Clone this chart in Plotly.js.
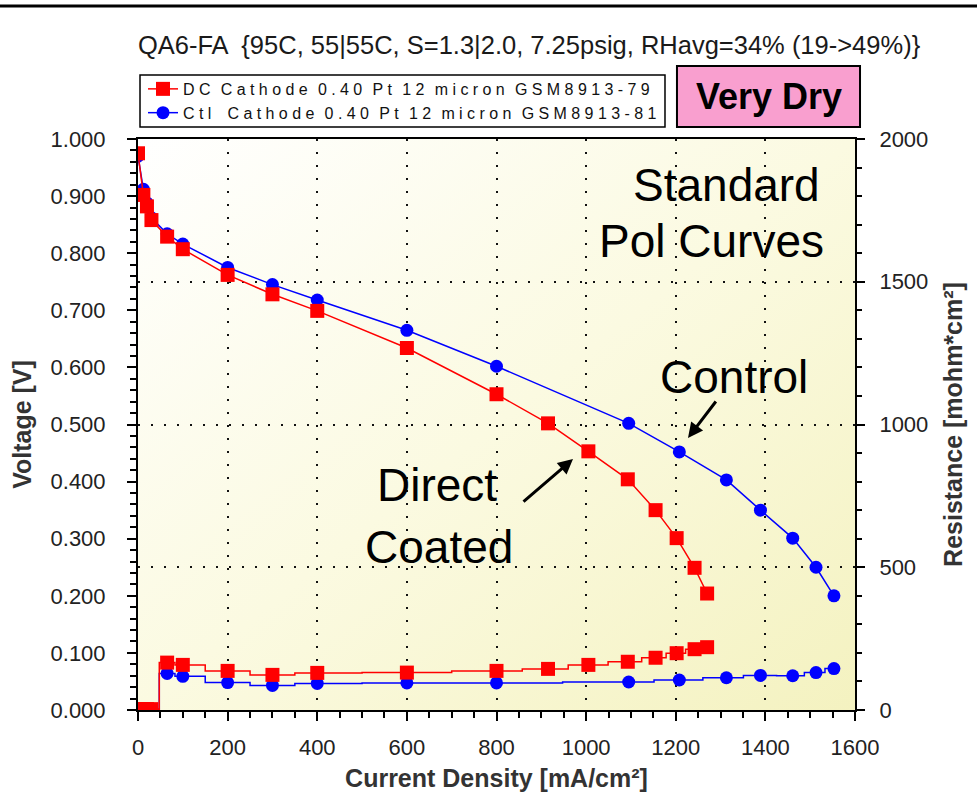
<!DOCTYPE html>
<html>
<head>
<meta charset="utf-8">
<script src="https://cdn.plot.ly/plotly-3.0.1.min.js"></script>
<style>
  html, body { margin: 0; padding: 0; background: #fff; }
  #chart { width: 977px; height: 804px; }
  .legendtext { letter-spacing: 4.4px; word-spacing: -3px; }
</style>
</head>
<body>
<div id="chart"></div>
<script>
// ---- Data ----
const dcCurrent    = [0, 12, 20, 30, 65, 100, 200, 300, 400, 600, 800, 915, 1005, 1093, 1155, 1202, 1242, 1270];
const dcVoltage    = [0.975, 0.902, 0.882, 0.858, 0.829, 0.807, 0.762, 0.728, 0.699, 0.634, 0.553, 0.502, 0.453, 0.404, 0.350, 0.301, 0.249, 0.204];
const dcResistance = [3, 3, 3, 3, 166, 158, 137, 123, 130, 131, 137, 144, 158, 169, 183, 199, 213, 220];

const ctlCurrent    = [0, 12, 20, 30, 65, 100, 200, 300, 400, 600, 800, 1095, 1208, 1313, 1389, 1461, 1513, 1553];
const ctlVoltage    = [0.970, 0.912, 0.888, 0.862, 0.834, 0.816, 0.775, 0.745, 0.718, 0.665, 0.602, 0.502, 0.452, 0.403, 0.350, 0.301, 0.250, 0.200];
const ctlResistance = [3, 3, 3, 3, 128, 118, 96, 86, 93, 95, 95, 98, 105, 113, 121, 120, 131, 145];

const dcName  = "DC Cathode 0.40 Pt 12 micron GSM8913-79";
const ctlName = "Ctl\u00a0 Cathode 0.40 Pt 12 micron GSM8913-81";
const chartTitle = "QA6-FA  {95C, 55|55C, S=1.3|2.0, 7.25psig, RHavg=34% (19->49%)}";
const xTitle  = "Current Density [mA/cm²]";
const yTitle  = "Voltage [V]";
const y2Title = "Resistance [mohm*cm²]";

// ---- Styling ----
const FONT = "Liberation Sans, Arial, sans-serif";
const RED = "#ff0000", BLUE = "#0000ff";

const traces = [
  { x: ctlCurrent, y: ctlVoltage, name: ctlName, type: "scatter", mode: "lines+markers",
    line: { color: BLUE, width: 1.5 }, marker: { symbol: "circle", size: 13, color: BLUE },
    legendrank: 2, xaxis: "x", yaxis: "y" },
  { x: ctlCurrent, y: ctlResistance, name: ctlName, type: "scatter", mode: "lines+markers",
    line: { color: BLUE, width: 1.5, shape: "hvh" }, marker: { symbol: "circle", size: 13, color: BLUE },
    showlegend: false, xaxis: "x", yaxis: "y2" },
  { x: dcCurrent, y: dcVoltage, name: dcName, type: "scatter", mode: "lines+markers",
    line: { color: RED, width: 1.5 }, marker: { symbol: "square", size: 14, color: RED },
    legendrank: 1, xaxis: "x", yaxis: "y" },
  { x: dcCurrent, y: dcResistance, name: dcName, type: "scatter", mode: "lines+markers",
    line: { color: RED, width: 1.5, shape: "hvh" }, marker: { symbol: "square", size: 14, color: RED },
    showlegend: false, xaxis: "x", yaxis: "y2" }
];

const gradSvg = '<svg xmlns="http://www.w3.org/2000/svg" width="100" height="100" preserveAspectRatio="none">' +
  '<defs><linearGradient id="g" x1="0" y1="0" x2="1" y2="1">' +
  '<stop offset="0" stop-color="#ffffff"/><stop offset="0.5" stop-color="#fbfae1"/><stop offset="1" stop-color="#f4f2c0"/>' +
  '</linearGradient></defs><rect width="100" height="100" fill="url(#g)"/></svg>';
const gradUri = "data:image/svg+xml;charset=utf-8," + encodeURIComponent(gradSvg);

const tickFont = { family: FONT, size: 22, color: "#222" };
const dotGrid = { showgrid: true, gridcolor: "#111", gridwidth: 2, griddash: "2px,11px" };
const axTitleFont = { family: FONT, size: 25, color: "#333", weight: "bold" };

function label(text, x, y, size, bold) {
  return { text: bold ? "<b>" + text + "</b>" : text, xref: "paper", yref: "paper", x: x, y: y,
           xanchor: "center", yanchor: "middle", showarrow: false,
           font: { family: FONT, size: size, color: "#000" } };
}

const layout = {
  width: 977, height: 804,
  margin: { l: 138, r: 122, t: 139, b: 94 },
  paper_bgcolor: "#ffffff",
  plot_bgcolor: "rgba(0,0,0,0)",
  font: { family: FONT, color: "#222" },
  title: { text: chartTitle, font: { family: FONT, size: 25.5, color: "#1a1a1a" },
           xref: "container", yref: "container", x: 0.5415, xanchor: "center", y: 0.944, yanchor: "middle" },
  showlegend: true,
  legend: { x: 0.007, xanchor: "left", y: 1.1174, yanchor: "top", bgcolor: "rgba(0,0,0,0)", borderwidth: 0,
            font: { family: FONT, size: 16, color: "#111" }, traceorder: "normal" },
  xaxis: Object.assign({
    range: [0, 1600], dtick: 200, tick0: 0, showline: true, linecolor: "#000", linewidth: 2, mirror: true,
    ticks: "outside", ticklen: 9, tickwidth: 2, tickcolor: "#000", tickfont: tickFont, ticklabelstandoff: 8,
    minor: { dtick: 50, ticks: "outside", ticklen: 6, tickwidth: 2, tickcolor: "#000", showgrid: false },
    zeroline: false, automargin: false,
    title: { text: xTitle, font: axTitleFont, standoff: 10 }
  }, dotGrid),
  xaxis2: {
    overlaying: "x", anchor: "y", side: "bottom", range: [0, 1600], dtick: 200, tick0: 0,
    showline: false, showgrid: false, zeroline: false, showticklabels: false,
    ticks: "inside", ticklen: 6, tickwidth: 2, tickcolor: "#000", mirror: "ticks",
    minor: { dtick: 50, ticks: "inside", ticklen: 5, tickwidth: 2, tickcolor: "#000" }
  },
  yaxis: {
    range: [0, 1], dtick: 0.1, tick0: 0, tickformat: ".3f", showline: true, linecolor: "#000", linewidth: 2,
    ticks: "outside", ticklen: 9, tickwidth: 2, tickcolor: "#000", tickfont: tickFont, ticklabelstandoff: 17,
    minor: { dtick: 0.02, ticks: "outside", ticklen: 6, tickwidth: 2, tickcolor: "#000", showgrid: false },
    showgrid: false, zeroline: false, automargin: false,
    title: { text: yTitle, font: axTitleFont, standoff: 12 }
  },
  yaxis3: {
    overlaying: "y", anchor: "x", side: "left", range: [0, 1], dtick: 0.1, tick0: 0,
    showline: false, showgrid: false, zeroline: false, showticklabels: false,
    ticks: "inside", ticklen: 5, tickwidth: 2, tickcolor: "#000",
    minor: { dtick: 0.02, ticks: "inside", ticklen: 5, tickwidth: 2, tickcolor: "#000" }
  },
  yaxis2: Object.assign({
    overlaying: "y", anchor: "x", side: "right", range: [0, 2000], dtick: 500, tick0: 0, tickformat: "d",
    showline: true, linecolor: "#000", linewidth: 2,
    ticks: "outside", ticklen: 8, tickwidth: 2, tickcolor: "#000", tickfont: tickFont, ticklabelstandoff: 10,
    minor: { dtick: 100, ticks: "outside", ticklen: 5, tickwidth: 2, tickcolor: "#000", showgrid: false },
    zeroline: false, automargin: false,
    title: { text: y2Title, font: axTitleFont, standoff: 17 }
  }, dotGrid),
  yaxis4: {
    overlaying: "y", anchor: "x", side: "right", range: [0, 2000], dtick: 500, tick0: 0,
    showline: false, showgrid: false, zeroline: false, showticklabels: false,
    ticks: "inside", ticklen: 4, tickwidth: 2, tickcolor: "#000",
    minor: { dtick: 100, ticks: "inside", ticklen: 4, tickwidth: 2, tickcolor: "#000" }
  },
  images: [{ source: gradUri, xref: "paper", yref: "paper", x: 0, y: 1, sizex: 1, sizey: 1,
             xanchor: "left", yanchor: "top", sizing: "stretch", layer: "below" }],
  shapes: [
    { type: "line", xref: "paper", yref: "paper", x0: -0.2, x1: 1.2, y0: 1.2329, y1: 1.2329,
      line: { color: "#000", width: 3 } },
    { type: "rect", xref: "paper", yref: "paper", x0: 0.0028, x1: 0.735, y0: 1.021, y1: 1.112,
      line: { color: "#000", width: 1.5 }, fillcolor: "#ffffff", layer: "below" },
    { type: "rect", xref: "paper", yref: "paper", x0: 0.7517, x1: 1.007, y0: 1.021, y1: 1.128,
      line: { color: "#000", width: 2 }, fillcolor: "#f99fcf" }
  ],
  annotations: [
    label("Very Dry", 0.8794, 1.0736, 36, true),
    label("Standard", 0.8201, 0.9194, 46),
    label("Pol Curves", 0.7992, 0.8214, 46),
    label("Control", 0.8312, 0.5832, 46),
    label("Direct", 0.417, 0.394, 46),
    label("Coated", 0.4198, 0.2855, 46),
    { text: "", xref: "paper", yref: "paper", x: 0.7671, y: 0.4764, ax: 29, ay: -38,
      showarrow: true, arrowhead: 2, arrowsize: 1, arrowwidth: 3, arrowcolor: "#000", standoff: 0 },
    { text: "", xref: "paper", yref: "paper", x: 0.6067, y: 0.4396, ax: -51, ay: 44,
      showarrow: true, arrowhead: 2, arrowsize: 1, arrowwidth: 3, arrowcolor: "#000", standoff: 0 }
  ]
};

Plotly.newPlot("chart", traces, layout, { displayModeBar: false, staticPlot: true });
</script>
</body>
</html>
